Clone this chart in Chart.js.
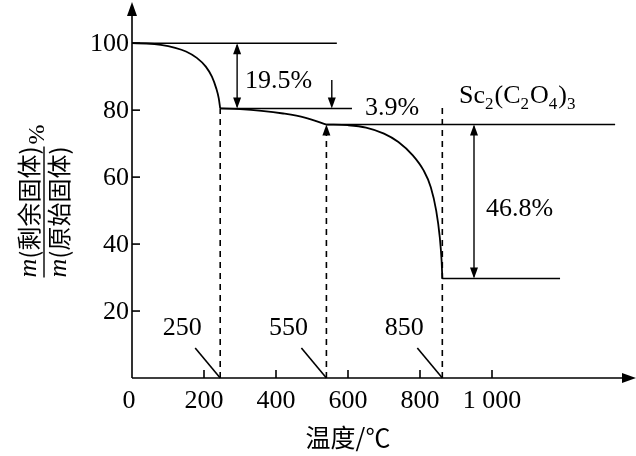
<!DOCTYPE html>
<html><head><meta charset="utf-8">
<script src="https://cdn.jsdelivr.net/npm/chart.js@4"></script>
<style>body{margin:0;background:#fff}#w{width:636px;height:456px}</style>
</head><body><div id="w"><canvas id="c"></canvas></div>
<script>
const xTicks=[0,200,400,600,800,1000];
const xTickLabels=['0','200','400','600','800','1 000'];
const yTicks=[20,40,60,80,100];
const seg1X=[0,40,80,120,150,180,205,222,234,241,245];
const seg1Y=[100,99.9,99.5,98.6,97.5,95.6,93,90,86.5,83.5,80.5];
const seg2X=[245,300,360,420,480,540];
const seg2Y=[80.5,80.3,79.8,79,77.8,75.7];
const seg3X=[540,600,650,700,740,780,810,830,845,855,860,862];
const seg3Y=[75.7,75.5,74.8,73,70.5,66.5,62,57,50,42,35,29.7];
const steps=[245,540,862];
const stepLabels=['250','550','850'];
const levels=[100,80.5,75.7,29.7];
const lossLabels=['19.5%','3.9%','46.8%'];
const F='"Liberation Serif", serif';
const pts=(xs,ys)=>xs.map((x,i)=>({x,y:ys[i]}));
const line=(d,dash)=>({data:d,borderColor:'#000',borderWidth:1.6,pointRadius:0,borderDash:dash||[],tension:0});
const curve=d=>Object.assign(line(d),{cubicInterpolationMode:'monotone',borderWidth:1.8});
const ds=[
 curve(pts(seg1X,seg1Y)),curve(pts(seg2X,seg2Y)),curve(pts(seg3X,seg3Y)),
 line([{x:0,y:levels[0]},{x:569,y:levels[0]}]),
 line([{x:245,y:levels[1]},{x:611,y:levels[1]}]),
 line([{x:540,y:levels[2]},{x:1342,y:levels[2]}]),
 line([{x:862,y:levels[3]},{x:1189,y:levels[3]}]),
 line([{x:steps[0],y:0},{x:steps[0],y:levels[1]}],[6,5]),
 line([{x:steps[1],y:0},{x:steps[1],y:levels[2]}],[6,5]),
 line([{x:steps[2],y:0},{x:steps[2],y:81}],[6,5]),
];
function arrowHead(c,x,y,dir){c.beginPath();c.moveTo(x,y);c.lineTo(x-4,y-dir*11);c.lineTo(x+4,y-dir*11);c.closePath();c.fill();}
const deco={id:'deco',afterDraw(ch){
 const c=ch.ctx,X=ch.scales.x,Y=ch.scales.y;const px=v=>X.getPixelForValue(v),py=v=>Y.getPixelForValue(v);
 c.save();c.strokeStyle='#000';c.fillStyle='#000';c.lineWidth=1.6;
 const x0=px(0),y0=py(0);
 c.beginPath();c.moveTo(x0,y0);c.lineTo(632,y0);c.moveTo(x0,y0);c.lineTo(x0,6);c.stroke();
 c.beginPath();c.moveTo(636,y0);c.lineTo(622,y0-5);c.lineTo(622,y0+5);c.closePath();c.fill();
 c.beginPath();c.moveTo(x0,2);c.lineTo(x0-5,16);c.lineTo(x0+5,16);c.closePath();c.fill();
 c.font='26px '+F;c.textAlign='center';c.textBaseline='top';
 xTicks.forEach((t,i)=>{if(t>0){c.beginPath();c.moveTo(px(t),y0);c.lineTo(px(t),y0-8);c.stroke();}c.fillText(xTickLabels[i],px(t)-(t==0?3:0),y0+10);});
 c.textAlign='right';c.textBaseline='middle';
 yTicks.forEach(t=>{c.beginPath();c.moveTo(x0,py(t));c.lineTo(x0+8,py(t));c.stroke();});
 yTicks.forEach(t=>c.fillText(String(t),x0-3,py(t)+1));
 c.textAlign='center';c.font='25px "Noto Sans CJK SC", sans-serif';c.fillText('温度/℃',px(600),437);
 c.font='26px '+F;c.textBaseline='middle';
 steps.forEach((s,i)=>{c.fillText(stepLabels[i],px(s)-38,328);c.beginPath();c.moveTo(px(s)-25,348);c.lineTo(px(s),y0);c.stroke();});
 c.lineWidth=1.4;
 let ax=px(292);c.beginPath();c.moveTo(ax,py(100)+2);c.lineTo(ax,py(80.5)-2);c.stroke();arrowHead(c,ax,py(100),-1);arrowHead(c,ax,py(80.5),1);
 ax=px(555);c.beginPath();c.moveTo(ax,py(89));c.lineTo(ax,py(80.5)-4);c.stroke();arrowHead(c,ax,py(80.5),1);
 ax=px(540);arrowHead(c,ax,py(75.7),-1);
 ax=px(950);c.beginPath();c.moveTo(ax,py(75.7)+2);c.lineTo(ax,py(29.7)-2);c.stroke();arrowHead(c,ax,py(75.7),-1);arrowHead(c,ax,py(29.7),1);
 c.font='26px '+F;c.textAlign='left';
 c.fillText(lossLabels[0],245,81);c.fillText(lossLabels[1],365,108);c.fillText(lossLabels[2],486,209);
 let x=459,y=96;const seg=[['Sc',0],['2',1],['(C',0],['2',1],['O',0],['4',1],[')',0],['3',1]];
 seg.forEach(([t,sub])=>{c.font=(sub?'17px ':'26px ')+F;c.fillText(t,x,sub?y+9:y);x+=c.measureText(t).width+(sub?1:0);});
 c.translate(43,212);c.rotate(-Math.PI/2);
 function ml(t,yy){c.font='italic 26px '+F;const w1=c.measureText('m').width;c.font='24px "Noto Sans CJK SC", sans-serif';const w2=c.measureText(t).width;let s=-(w1+w2)/2;c.font='italic 26px '+F;c.textAlign='left';c.fillText('m',s,yy);c.font='24px "Noto Sans CJK SC", sans-serif';c.fillText(t,s+w1,yy);return (w1+w2)/2;}
 const hw=ml('(剩余固体)',-14);ml('(原始固体)',16);
 c.lineWidth=1.4;c.beginPath();c.moveTo(-hw,1);c.lineTo(hw,1);c.stroke();
 c.font='24px '+F;c.fillText('%',hw+2,-5);
 c.restore();
}};
new Chart(document.getElementById('c'),{type:'line',data:{datasets:ds},plugins:[deco],
 options:{responsive:true,maintainAspectRatio:false,animation:false,
  layout:{padding:{left:132,right:0,top:3,bottom:78}},
  plugins:{legend:{display:false},tooltip:{enabled:false}},
  scales:{x:{type:'linear',min:0,max:1400,display:false},y:{min:0,max:112,display:false}}}});
</script></body></html>
